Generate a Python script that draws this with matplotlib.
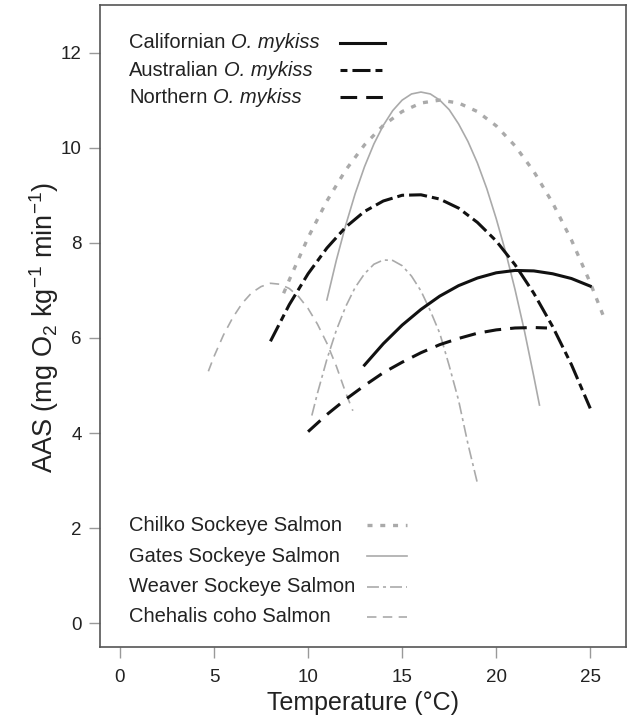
import matplotlib
matplotlib.use("Agg")
import matplotlib.pyplot as plt
from matplotlib.lines import Line2D

plt.rcParams['font.family'] = ['Liberation Sans', 'DejaVu Sans']
plt.rcParams['mathtext.fontset'] = 'custom'
plt.rcParams['mathtext.rm'] = 'Liberation Sans'
plt.rcParams['mathtext.it'] = 'Liberation Sans:italic'
plt.rcParams['mathtext.bf'] = 'Liberation Sans:bold'
plt.rcParams['lines.scale_dashes'] = False

# ---- data (temperature °C, AAS) ----
cal_t = [13, 14, 15, 16, 17, 18, 19, 20, 21, 22, 23, 24, 25]
cal_y = [5.43, 5.88, 6.27, 6.60, 6.88, 7.10, 7.26, 7.37, 7.42, 7.41, 7.35, 7.25, 7.09]

aus_t = [8, 9, 10, 11, 12, 13, 14, 15, 16, 17, 18, 19, 20, 21, 22, 23, 24, 25]
aus_y = [5.93, 6.70, 7.35, 7.89, 8.33, 8.66, 8.88, 9.00, 9.01, 8.92, 8.73, 8.43,
         8.04, 7.54, 6.94, 6.24, 5.44, 4.52]

nor_t = [10, 11, 12, 13, 14, 15, 16, 17, 18, 19, 20, 21, 22, 22.7]
nor_y = [4.03, 4.39, 4.71, 5.00, 5.27, 5.49, 5.69, 5.86, 5.99, 6.10, 6.17, 6.21,
         6.22, 6.21]

chi_t = [8.7, 9, 10, 11, 12, 13, 14, 15, 16, 17, 18, 19, 20, 21, 22, 23, 24, 25, 25.8]
chi_y = [6.94, 7.22, 8.11, 8.88, 9.53, 10.06, 10.47, 10.76, 10.94, 11.00, 10.94,
         10.76, 10.46, 10.04, 9.50, 8.84, 8.06, 7.16, 6.36]

gat_t = [11, 11.5, 12, 12.5, 13, 13.5, 14, 14.5, 15, 15.5, 16, 16.5, 17, 17.5,
         18, 18.5, 19, 19.5, 20, 20.5, 21, 21.5, 22, 22.3]
gat_y = [6.80, 7.63, 8.37, 9.03, 9.60, 10.08, 10.47, 10.78, 11.00, 11.13, 11.17,
         11.13, 11.00, 10.80, 10.50, 10.13, 9.68, 9.14, 8.51, 7.81, 7.02, 6.15,
         5.19, 4.59]

wea_t = [10.2, 10.5, 11, 11.5, 12, 12.5, 13, 13.5, 14, 14.5, 15, 15.5, 16, 16.5,
         17, 17.5, 18, 18.5, 19]
wea_y = [4.37, 4.84, 5.55, 6.16, 6.66, 7.06, 7.35, 7.55, 7.64, 7.63, 7.52, 7.30,
         6.99, 6.57, 6.10, 5.42, 4.69, 3.77, 2.95]

che_t = [4.7, 5, 5.5, 6, 6.5, 7, 7.5, 8, 8.5, 9, 9.5, 10, 10.5, 11, 11.5, 12, 12.38]
che_y = [5.30, 5.61, 6.06, 6.43, 6.73, 6.95, 7.08, 7.15, 7.13, 7.04, 6.87, 6.62,
         6.29, 5.89, 5.41, 4.85, 4.47]

x_ticks = [0, 5, 10, 15, 20, 25]
y_ticks = [0, 2, 4, 6, 8, 10, 12]

top_labels = ['Californian', 'Australian', 'Northern']
top_italic = 'O. mykiss'
bottom_labels = ['Chilko Sockeye Salmon', 'Gates Sockeye Salmon',
                 'Weaver Sockeye Salmon', 'Chehalis coho Salmon']

# ---- styles ----
BLACK = '#111111'
GRAY = '#aaaaaa'
styles = {
    'cal': dict(color=BLACK, lw=2.2, linestyle='-'),
    'aus': dict(color=BLACK, lw=2.2, linestyle=(0, (13.0, 3.6, 5.0, 3.6))),
    'nor': dict(color=BLACK, lw=2.2, linestyle=(0, (12.0, 6.5))),
    'chi': dict(color=GRAY, lw=2.4, linestyle=(0, (3.6, 5.6))),
    'gat': dict(color=GRAY, lw=1.2, linestyle='-'),
    'wea': dict(color=GRAY, lw=1.2, linestyle=(0, (8.6, 2.9, 2.2, 2.9))),
    'che': dict(color=GRAY, lw=1.2, linestyle=(0, (6.8, 4.6))),
}
handle_styles = dict(styles)
handle_styles['aus'] = dict(color=BLACK, lw=2.2,
                            linestyle=(16.6, (13.0, 3.6, 5.0, 3.6)))

fig = plt.figure(figsize=(6.27, 7.24), dpi=100)
ax = fig.add_axes([100 / 627, (724 - 646.7) / 724, 526 / 627, 641.7 / 724])

ax.plot(chi_t, chi_y, **styles['chi'])
ax.plot(gat_t, gat_y, **styles['gat'])
ax.plot(wea_t, wea_y, **styles['wea'])
ax.plot(che_t, che_y, **styles['che'])
ax.plot(cal_t, cal_y, **styles['cal'])
ax.plot(aus_t, aus_y, **styles['aus'])
ax.plot(nor_t, nor_y, **styles['nor'])

ax.set_xlim(-1.06, 26.9)
ax.set_ylim(-0.49, 13.0)
ax.set_xticks(x_ticks)
ax.set_yticks(y_ticks)
ax.tick_params(axis='both', direction='out', length=8, width=1.0,
               color='#999999', labelsize=13.5, labelcolor='#222222')
ax.tick_params(axis='x', pad=8)
ax.tick_params(axis='y', pad=5)
for s in ax.spines.values():
    s.set_color('#555555')
    s.set_linewidth(1.2)

ax.set_xlabel('Temperature (°C)', fontsize=18, color='#222222')
ax.xaxis.set_label_coords(0.5, -0.088)
ax.xaxis.label.set_va('center')
ax.set_ylabel('AAS (mg O$_2$ kg$^{-1}$ min$^{-1}$)', fontsize=19.5, color='#222222')
ax.yaxis.set_label_coords(-0.1065, 0.497)
ax.yaxis.label.set_va('center')

# ---- manual legends (text left-aligned, handle to the right) ----
top_keys = ['cal', 'aus', 'nor']
top_rows = [0.9408, 0.8987, 0.8566]
for lab, key, yy in zip(top_labels, top_keys, top_rows):
    t = ax.text(0.055, yy, lab, transform=ax.transAxes, fontsize=14.5,
                va='center', ha='left', color='#222222')
    ax.annotate(top_italic, xy=(1, 0), xycoords=t, xytext=(3.9, 0),
                textcoords='offset points', fontsize=14.5, fontstyle='italic',
                va='bottom', ha='left', color='#222222')
    ax.add_line(Line2D([0.456, 0.542], [yy, yy], transform=ax.transAxes,
                       **handle_styles[key]))

bot_keys = ['chi', 'gat', 'wea', 'che']
bot_rows = [0.1896, 0.1413, 0.0935, 0.0463]
for lab, key, yy in zip(bottom_labels, bot_keys, bot_rows):
    ax.text(0.055, yy, lab, transform=ax.transAxes, fontsize=14.5,
            va='center', ha='left', color='#222222')
    ax.add_line(Line2D([0.508, 0.584], [yy, yy], transform=ax.transAxes,
                       **handle_styles[key]))

fig.savefig('out.png', dpi=100)
